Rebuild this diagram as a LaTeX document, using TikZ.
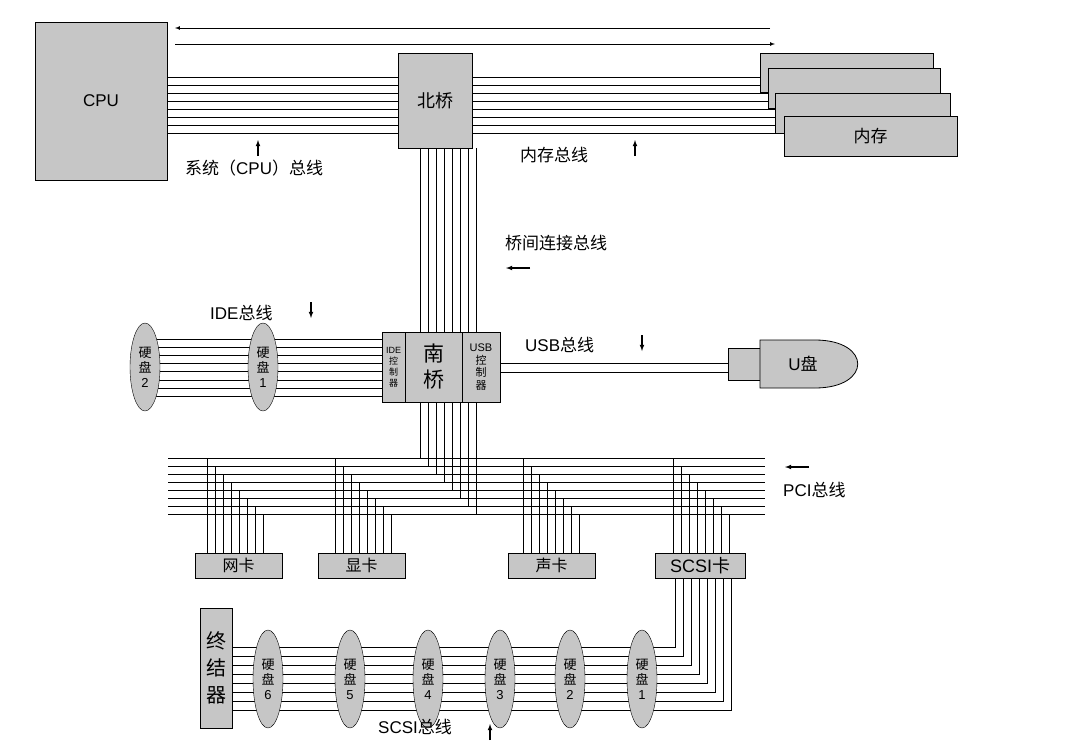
\documentclass[tikz,border=0pt]{standalone}
\usepackage{fontspec}
\setmainfont{Liberation Sans}
\newfontfamily\cjk{Noto Sans CJK SC}
\usetikzlibrary{calc}
\usetikzlibrary{shapes}
\tikzset{
  part/.style={draw, thick, fill=gray!45, inner sep=0pt},
  disk/.style={draw, fill=gray!45, ellipse, minimum width=30pt, minimum height=88pt, inner sep=0pt, font=\cjk\fontsize{13}{15}\selectfont, align=center},
  card/.style={part, minimum width=87pt, minimum height=25pt, font=\cjk\fontsize{16}{16}\selectfont},
  lbl/.style={font=\cjk\fontsize{17}{17}\selectfont, anchor=west, inner sep=0pt},
  wire/.style={line width=0.7pt},
}
\newcommand{\uparr}[2]{\draw[-latex, line width=1.1pt] (#1, #2+16) -- (#1, #2);}
\newcommand{\dnarr}[2]{\draw[-latex, line width=1.1pt] (#1, #2) -- (#1, #2+16);}
\newcommand{\lfarr}[2]{\draw[-latex, line width=1.1pt] (#1+24, #2) -- (#1, #2);}

\begin{document}
\begin{tikzpicture}[x=1pt, y=-1pt]
  \useasboundingbox (0,0) rectangle (1072,745);
  % top arrows
  \draw[-latex, wire] (770,28) -- (175,28);
  \draw[-latex, wire] (175,44) -- (775,44);
  % system and memory bus
  \foreach \i in {0,...,7}
    \draw[wire] (167, 77+8*\i) -- (780, 77+8*\i);
  % bridge bus down to the PCI lines
  \foreach \i in {0,...,7}
    \draw[wire] (420+8*\i, 148) |- (765, 458+8.1*\i);
  % PCI lines to the left
  \foreach \i in {0,...,7}
    \draw[wire] (168, 458+8.1*\i) -- (420+8*\i, 458+8.1*\i);
  % cards taps
  \foreach \x in {207,335,523,673}
    \foreach \i in {0,...,7}
      \draw[wire] (\x+8*\i, 458+8.1*\i) -- (\x+8*\i, 553);
  % SCSI bus
  \foreach \i in {0,...,7}
    \draw[wire] (675+8*\i, 578) |- (232, 647+9*\i);
  % IDE bus
  \foreach \i in {0,...,7}
    \draw[wire] (145, 339+8.2*\i) -- (382, 339+8.2*\i);
  % USB bus
  \draw[wire] (500,363) -- (728,363);
  \draw[wire] (500,372) -- (728,372);

  % CPU
  \node[part, minimum width=132pt, minimum height=158pt, font=\fontsize{17}{17}\selectfont] (cpu) at (101,101) {CPU};
  % north bridge
  \node[part, minimum width=74pt, minimum height=95pt, font=\cjk\fontsize{18}{18}\selectfont] (nb) at (435,100.5) {北桥};
  % memory
  \node[part, minimum width=173pt, minimum height=39pt] (mem1) at (846.5,72.5) {};
  \node[part, minimum width=172pt, minimum height=40pt] (mem2) at (854,88) {};
  \node[part, minimum width=175pt, minimum height=40pt] (mem3) at (862.5,113) {};
  \node[part, minimum width=173pt, minimum height=40pt, font=\cjk\fontsize{17}{17}\selectfont] (mem4) at (870.5,136) {内存};

  % south bridge
  \node[part, minimum width=23pt, minimum height=70pt, font=\cjk\fontsize{9}{11}\selectfont, align=center] (ide) at (393.5,367) {\fontspec{Liberation Sans}IDE\\控\\制\\器};
  \node[part, minimum width=57pt, minimum height=70pt, font=\cjk\fontsize{21}{26}\selectfont, align=center] (sb) at (433.5,367) {南\\桥};
  \node[part, minimum width=38pt, minimum height=70pt, font=\cjk\fontsize{11}{12.5}\selectfont, align=center] (usb) at (481,367) {\fontspec{Liberation Sans}USB\\控\\制\\器};

  % IDE disks
  \node[disk] (ide2) at (145,367) {硬\\盘\\\fontspec{Liberation Sans}2};
  \node[disk] (ide1) at (263,367) {硬\\盘\\\fontspec{Liberation Sans}1};

  % U disk
  \node[part, minimum width=32pt, minimum height=32pt] (plug) at (744,364) {};
  \filldraw[thick, fill=gray!45] (760,340) -- (815,340) .. controls (872,340) and (872,388) .. (815,388) -- (760,388) -- cycle;
  \node[font=\fontsize{17}{17}\selectfont] (udisk) at (803,364) {U\cjk 盘};

  % cards
  \node[card] (nic) at (238.5,565.5) {网卡};
  \node[card] (vga) at (361.5,565.5) {显卡};
  \node[card] (snd) at (551.5,565.5) {声卡};
  \node[card, minimum width=90pt, font=\fontsize{18}{18}\selectfont] (scsi) at (700,565.5) {SCSI\cjk 卡};

  % SCSI chain
  \node[part, minimum width=32pt, minimum height=120pt, font=\cjk\fontsize{20}{27}\selectfont, align=center] (term) at (216,668) {终\\结\\器};
  \foreach \x/\n in {268/6, 350/5, 428/4, 500/3, 570/2, 642/1}
    \node[disk, minimum height=98pt] (sd\n) at (\x,679) {硬\\盘\\\fontspec{Liberation Sans}\n};

  % labels
  \node[lbl] (lsys) at (185,168) {系统（\fontspec{Liberation Sans}CPU\cjk ）总线};
  \uparr{258}{140}
  \node[lbl] (lmem) at (520,155) {内存总线};
  \uparr{635}{140}
  \node[lbl] (lbr) at (505,243) {桥间连接总线};
  \lfarr{506}{268}
  \node[lbl] (lide) at (210,313) {\fontspec{Liberation Sans}IDE\cjk 总线};
  \dnarr{311}{302}
  \node[lbl] (lusb) at (525,345) {\fontspec{Liberation Sans}USB\cjk 总线};
  \dnarr{642}{335}
  \lfarr{785}{467}
  \node[lbl] (lpci) at (783,490) {\fontspec{Liberation Sans}PCI\cjk 总线};
  \node[lbl] (lscsi) at (378,727) {\fontspec{Liberation Sans}SCSI\cjk 总线};
  \uparr{490}{724}
\end{tikzpicture}
\end{document}
